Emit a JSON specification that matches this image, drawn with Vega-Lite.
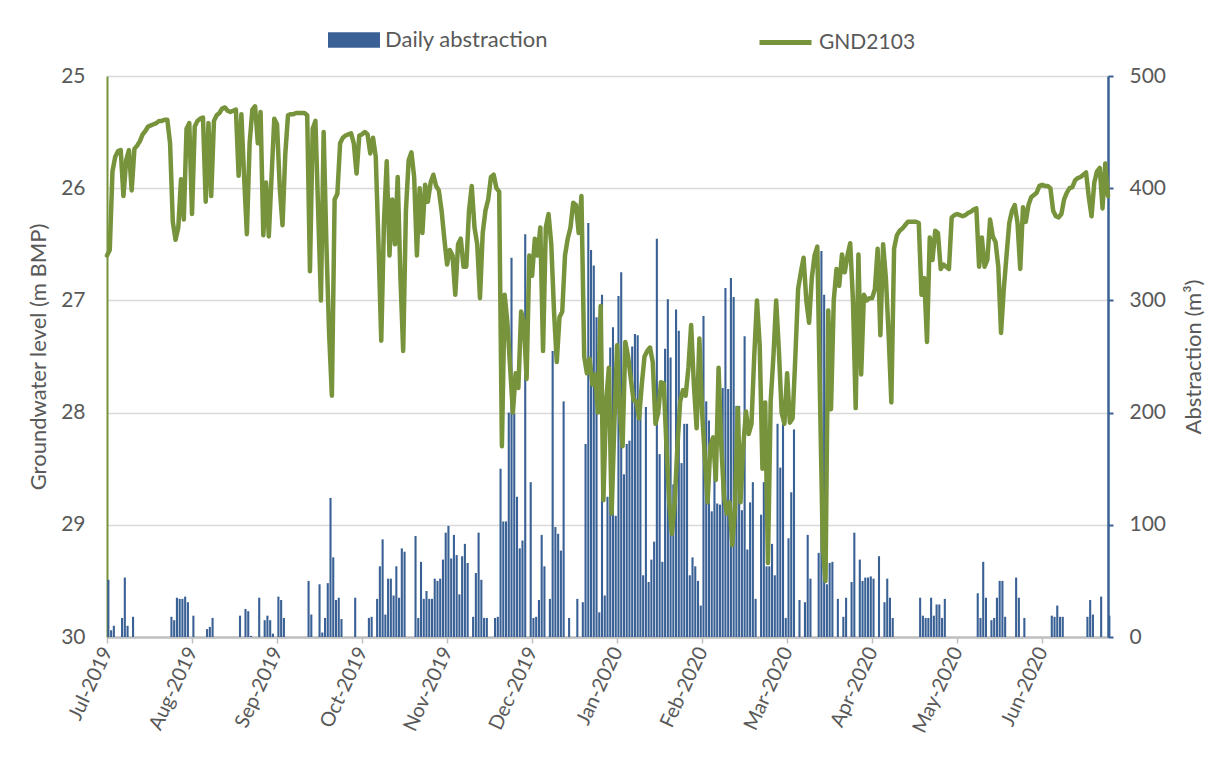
{
"$schema":"https://vega.github.io/schema/vega-lite/v6.json",
"width":1001,"height":561,
"autosize":{"type":"none"},
"padding":{"left":107,"top":76,"right":106,"bottom":123},
"background":"white",
"config":{"font":"Lato","view":{"stroke":null},"axis":{"labelFont":"Lato","titleFont":"Lato"},"legend":{"labelFont":"Lato","labelLimit":400}},
"data":{"values":[
{"date":"2019-07-01","level":26.6,"abstraction":51},{"date":"2019-07-02","level":26.55,"abstraction":6},{"date":"2019-07-03","level":25.85,"abstraction":10},{"date":"2019-07-04","level":25.72},{"date":"2019-07-05","level":25.67},{"date":"2019-07-06","level":25.66,"abstraction":17},{"date":"2019-07-07","level":26.07,"abstraction":53},{"date":"2019-07-08","level":25.75,"abstraction":10},{"date":"2019-07-09","level":25.66},{"date":"2019-07-10","level":26.02,"abstraction":18},{"date":"2019-07-11","level":25.65},{"date":"2019-07-12","level":25.62},{"date":"2019-07-13","level":25.58},{"date":"2019-07-14","level":25.52},{"date":"2019-07-15","level":25.49},{"date":"2019-07-16","level":25.45},{"date":"2019-07-17","level":25.44},{"date":"2019-07-18","level":25.43},{"date":"2019-07-19","level":25.42},{"date":"2019-07-20","level":25.40},{"date":"2019-07-21","level":25.40},{"date":"2019-07-22","level":25.39},{"date":"2019-07-23","level":25.39},{"date":"2019-07-24","level":25.6,"abstraction":18},{"date":"2019-07-25","level":26.3,"abstraction":15},{"date":"2019-07-26","level":26.46,"abstraction":35},{"date":"2019-07-27","level":26.35,"abstraction":34},{"date":"2019-07-28","level":25.92,"abstraction":34},{"date":"2019-07-29","level":26.28,"abstraction":36},{"date":"2019-07-30","level":25.47,"abstraction":31},{"date":"2019-07-31","level":25.42},
{"date":"2019-08-01","level":26.23,"abstraction":19},{"date":"2019-08-02","level":25.45},{"date":"2019-08-03","level":25.40},{"date":"2019-08-04","level":25.38},{"date":"2019-08-05","level":25.37},{"date":"2019-08-06","level":26.12,"abstraction":7},{"date":"2019-08-07","level":25.42,"abstraction":9},{"date":"2019-08-08","level":26.07,"abstraction":17},{"date":"2019-08-09","level":25.40},{"date":"2019-08-10","level":25.35},{"date":"2019-08-11","level":25.33},{"date":"2019-08-12","level":25.29},{"date":"2019-08-13","level":25.28},{"date":"2019-08-14","level":25.31},{"date":"2019-08-15","level":25.32},{"date":"2019-08-16","level":25.31},{"date":"2019-08-17","level":25.30},{"date":"2019-08-18","level":25.89,"abstraction":19},{"date":"2019-08-19","level":25.34},{"date":"2019-08-20","level":25.90,"abstraction":25},{"date":"2019-08-21","level":26.41,"abstraction":23},{"date":"2019-08-22","level":25.60,"abstraction":1},{"date":"2019-08-23","level":25.30},{"date":"2019-08-24","level":25.27},{"date":"2019-08-25","level":25.60,"abstraction":35},{"date":"2019-08-26","level":25.32},{"date":"2019-08-27","level":26.42,"abstraction":15},{"date":"2019-08-28","level":25.95,"abstraction":19},{"date":"2019-08-29","level":26.43,"abstraction":15},{"date":"2019-08-30","level":25.90,"abstraction":3},{"date":"2019-08-31","level":25.38},
{"date":"2019-09-01","level":25.43,"abstraction":36},{"date":"2019-09-02","level":26.00,"abstraction":33},{"date":"2019-09-03","level":26.33,"abstraction":17},{"date":"2019-09-04","level":25.70},{"date":"2019-09-05","level":25.35},{"date":"2019-09-06","level":25.34},{"date":"2019-09-07","level":25.34},{"date":"2019-09-08","level":25.33},{"date":"2019-09-09","level":25.33},{"date":"2019-09-10","level":25.33},{"date":"2019-09-11","level":25.33},{"date":"2019-09-12","level":25.35,"abstraction":50},{"date":"2019-09-13","level":26.74,"abstraction":20},{"date":"2019-09-14","level":25.47},{"date":"2019-09-15","level":25.40},{"date":"2019-09-16","level":26.20,"abstraction":47},{"date":"2019-09-17","level":27.00,"abstraction":4},{"date":"2019-09-18","level":25.50,"abstraction":17},{"date":"2019-09-19","level":26.50,"abstraction":48},{"date":"2019-09-20","level":27.30,"abstraction":124},{"date":"2019-09-21","level":27.85,"abstraction":71},{"date":"2019-09-22","level":26.10,"abstraction":33},{"date":"2019-09-23","level":26.05,"abstraction":35},{"date":"2019-09-24","level":25.60,"abstraction":16},{"date":"2019-09-25","level":25.55},{"date":"2019-09-26","level":25.53},{"date":"2019-09-27","level":25.52},{"date":"2019-09-28","level":25.51},{"date":"2019-09-29","level":25.60,"abstraction":35},{"date":"2019-09-30","level":25.87},
{"date":"2019-10-01","level":25.53},{"date":"2019-10-02","level":25.52},{"date":"2019-10-03","level":25.50},{"date":"2019-10-04","level":25.52,"abstraction":17},{"date":"2019-10-05","level":25.69,"abstraction":18},{"date":"2019-10-06","level":25.55},{"date":"2019-10-07","level":25.72,"abstraction":34},{"date":"2019-10-08","level":26.50,"abstraction":63},{"date":"2019-10-09","level":27.36,"abstraction":87},{"date":"2019-10-10","level":26.30,"abstraction":20},{"date":"2019-10-11","level":25.76,"abstraction":52},{"date":"2019-10-12","level":26.60,"abstraction":52},{"date":"2019-10-13","level":26.10,"abstraction":37},{"date":"2019-10-14","level":26.50,"abstraction":63},{"date":"2019-10-15","level":25.90,"abstraction":35},{"date":"2019-10-16","level":26.80,"abstraction":79},{"date":"2019-10-17","level":27.45,"abstraction":76},{"date":"2019-10-18","level":26.20},{"date":"2019-10-19","level":25.75},{"date":"2019-10-20","level":25.68},{"date":"2019-10-21","level":25.90,"abstraction":90},{"date":"2019-10-22","level":26.60,"abstraction":17},{"date":"2019-10-23","level":26.00,"abstraction":67},{"date":"2019-10-24","level":26.40,"abstraction":34},{"date":"2019-10-25","level":25.97,"abstraction":41},{"date":"2019-10-26","level":26.12,"abstraction":34},{"date":"2019-10-27","level":25.95,"abstraction":34},{"date":"2019-10-28","level":25.88,"abstraction":52},{"date":"2019-10-29","level":25.98,"abstraction":50},{"date":"2019-10-30","level":26.02,"abstraction":52},{"date":"2019-10-31","level":26.20,"abstraction":69},
{"date":"2019-11-01","level":26.45,"abstraction":93},{"date":"2019-11-02","level":26.68,"abstraction":99},{"date":"2019-11-03","level":26.55,"abstraction":70},{"date":"2019-11-04","level":26.60,"abstraction":91},{"date":"2019-11-05","level":26.95,"abstraction":73},{"date":"2019-11-06","level":26.50,"abstraction":38},{"date":"2019-11-07","level":26.45,"abstraction":72},{"date":"2019-11-08","level":26.70,"abstraction":83},{"date":"2019-11-09","level":26.70,"abstraction":66},{"date":"2019-11-10","level":26.20},{"date":"2019-11-11","level":25.98,"abstraction":18},{"date":"2019-11-12","level":26.35,"abstraction":57},{"date":"2019-11-13","level":26.50,"abstraction":93},{"date":"2019-11-14","level":26.98,"abstraction":51},{"date":"2019-11-15","level":26.40,"abstraction":17},{"date":"2019-11-16","level":26.20,"abstraction":17},{"date":"2019-11-17","level":26.10},{"date":"2019-11-18","level":25.90},{"date":"2019-11-19","level":25.88,"abstraction":17},{"date":"2019-11-20","level":26.00,"abstraction":18},{"date":"2019-11-21","level":26.03,"abstraction":150},{"date":"2019-11-22","level":28.30,"abstraction":103},{"date":"2019-11-23","level":26.95,"abstraction":103},{"date":"2019-11-24","level":27.20,"abstraction":200},{"date":"2019-11-25","level":27.60,"abstraction":338},{"date":"2019-11-26","level":28.00,"abstraction":199},{"date":"2019-11-27","level":27.65,"abstraction":125},{"date":"2019-11-28","level":27.78,"abstraction":79},{"date":"2019-11-29","level":27.10,"abstraction":86},{"date":"2019-11-30","level":27.20,"abstraction":359},
{"date":"2019-12-01","level":27.70},{"date":"2019-12-02","level":26.60,"abstraction":138},{"date":"2019-12-03","level":26.78,"abstraction":17},{"date":"2019-12-04","level":26.45,"abstraction":18},{"date":"2019-12-05","level":26.60,"abstraction":33},{"date":"2019-12-06","level":26.35,"abstraction":91},{"date":"2019-12-07","level":27.45,"abstraction":63},{"date":"2019-12-08","level":26.35},{"date":"2019-12-09","level":26.23,"abstraction":34},{"date":"2019-12-10","level":26.50,"abstraction":255},{"date":"2019-12-11","level":27.10,"abstraction":98},{"date":"2019-12-12","level":27.55,"abstraction":92},{"date":"2019-12-13","level":27.15,"abstraction":77},{"date":"2019-12-14","level":27.10,"abstraction":210},{"date":"2019-12-15","level":26.60},{"date":"2019-12-16","level":26.45,"abstraction":17},{"date":"2019-12-17","level":26.35},{"date":"2019-12-18","level":26.13},{"date":"2019-12-19","level":26.15,"abstraction":34},{"date":"2019-12-20","level":26.40},{"date":"2019-12-21","level":26.07,"abstraction":31},{"date":"2019-12-22","level":27.50,"abstraction":172},{"date":"2019-12-23","level":27.65,"abstraction":369},{"date":"2019-12-24","level":27.52,"abstraction":345},{"date":"2019-12-25","level":27.75,"abstraction":331},{"date":"2019-12-26","level":27.66,"abstraction":285},{"date":"2019-12-27","level":28.00,"abstraction":22},{"date":"2019-12-28","level":27.05,"abstraction":305},{"date":"2019-12-29","level":28.78,"abstraction":37},{"date":"2019-12-30","level":27.90,"abstraction":125},{"date":"2019-12-31","level":27.60,"abstraction":258},
{"date":"2020-01-01","level":28.90,"abstraction":276},{"date":"2020-01-02","level":28.10,"abstraction":108},{"date":"2020-01-03","level":27.40,"abstraction":304},{"date":"2020-01-04","level":28.00,"abstraction":325},{"date":"2020-01-05","level":28.30,"abstraction":145},{"date":"2020-01-06","level":27.37,"abstraction":172},{"date":"2020-01-07","level":27.50,"abstraction":175},{"date":"2020-01-08","level":27.70,"abstraction":259},{"date":"2020-01-09","level":27.89,"abstraction":270},{"date":"2020-01-10","level":27.90,"abstraction":269},{"date":"2020-01-11","level":28.05,"abstraction":220},{"date":"2020-01-12","level":27.75,"abstraction":55},{"date":"2020-01-13","level":27.50,"abstraction":205},{"date":"2020-01-14","level":27.45,"abstraction":49},{"date":"2020-01-15","level":27.42,"abstraction":69},{"date":"2020-01-16","level":27.55,"abstraction":85},{"date":"2020-01-17","level":28.10,"abstraction":355},{"date":"2020-01-18","level":28.00,"abstraction":163},{"date":"2020-01-19","level":27.73,"abstraction":67},{"date":"2020-01-20","level":27.74,"abstraction":257},{"date":"2020-01-21","level":28.30,"abstraction":301},{"date":"2020-01-22","level":28.80,"abstraction":249},{"date":"2020-01-23","level":29.08,"abstraction":136},{"date":"2020-01-24","level":28.80,"abstraction":292},{"date":"2020-01-25","level":28.30,"abstraction":273},{"date":"2020-01-26","level":27.90,"abstraction":155},{"date":"2020-01-27","level":27.80,"abstraction":190},{"date":"2020-01-28","level":27.85,"abstraction":190},{"date":"2020-01-29","level":27.60,"abstraction":55},{"date":"2020-01-30","level":27.22,"abstraction":71},{"date":"2020-01-31","level":27.75,"abstraction":63},
{"date":"2020-02-01","level":28.14,"abstraction":50},{"date":"2020-02-02","level":27.34,"abstraction":28},{"date":"2020-02-03","level":28.00,"abstraction":286},{"date":"2020-02-04","level":28.40,"abstraction":210},{"date":"2020-02-05","level":28.80,"abstraction":193},{"date":"2020-02-06","level":28.30,"abstraction":112},{"date":"2020-02-07","level":28.22,"abstraction":149},{"date":"2020-02-08","level":28.60,"abstraction":119},{"date":"2020-02-09","level":27.60,"abstraction":118},{"date":"2020-02-10","level":28.30,"abstraction":222},{"date":"2020-02-11","level":28.75,"abstraction":311},{"date":"2020-02-12","level":28.90,"abstraction":221},{"date":"2020-02-13","level":28.80,"abstraction":320},{"date":"2020-02-14","level":29.18,"abstraction":303},{"date":"2020-02-15","level":28.85,"abstraction":206},{"date":"2020-02-16","level":27.96,"abstraction":206},{"date":"2020-02-17","level":28.80,"abstraction":113},{"date":"2020-02-18","level":28.30,"abstraction":268},{"date":"2020-02-19","level":27.99,"abstraction":78},{"date":"2020-02-20","level":28.19,"abstraction":120},{"date":"2020-02-21","level":28.10,"abstraction":138},{"date":"2020-02-22","level":27.50,"abstraction":34},{"date":"2020-02-23","level":27.00},{"date":"2020-02-24","level":27.40,"abstraction":109},{"date":"2020-02-25","level":28.50,"abstraction":138},{"date":"2020-02-26","level":27.91,"abstraction":63},{"date":"2020-02-27","level":29.34,"abstraction":63},{"date":"2020-02-28","level":27.90,"abstraction":83},{"date":"2020-02-29","level":27.50,"abstraction":55},
{"date":"2020-03-01","level":27.00,"abstraction":190},{"date":"2020-03-02","level":27.45,"abstraction":151},{"date":"2020-03-03","level":28.00,"abstraction":193},{"date":"2020-03-04","level":28.10,"abstraction":17},{"date":"2020-03-05","level":27.65,"abstraction":88},{"date":"2020-03-06","level":28.09,"abstraction":129},{"date":"2020-03-07","level":28.05,"abstraction":185},{"date":"2020-03-08","level":27.50},{"date":"2020-03-09","level":26.90,"abstraction":33},{"date":"2020-03-10","level":26.75},{"date":"2020-03-11","level":26.62,"abstraction":31},{"date":"2020-03-12","level":27.00,"abstraction":91},{"date":"2020-03-13","level":27.20,"abstraction":52},{"date":"2020-03-14","level":26.80},{"date":"2020-03-15","level":26.60},{"date":"2020-03-16","level":26.52,"abstraction":75},{"date":"2020-03-17","level":27.88,"abstraction":344},{"date":"2020-03-18","level":29.20,"abstraction":305},{"date":"2020-03-19","level":29.50,"abstraction":47},{"date":"2020-03-20","level":27.09,"abstraction":66},{"date":"2020-03-21","level":27.97,"abstraction":67},{"date":"2020-03-22","level":27.00},{"date":"2020-03-23","level":26.72,"abstraction":34},{"date":"2020-03-24","level":26.87},{"date":"2020-03-25","level":26.59,"abstraction":18},{"date":"2020-03-26","level":26.75,"abstraction":35},{"date":"2020-03-27","level":26.60},{"date":"2020-03-28","level":26.49,"abstraction":49},{"date":"2020-03-29","level":27.00,"abstraction":93},{"date":"2020-03-30","level":27.96},{"date":"2020-03-31","level":26.59,"abstraction":69},
{"date":"2020-04-01","level":27.66,"abstraction":50},{"date":"2020-04-02","level":26.95,"abstraction":53},{"date":"2020-04-03","level":27.00,"abstraction":53},{"date":"2020-04-04","level":26.98,"abstraction":54},{"date":"2020-04-05","level":26.98,"abstraction":52},{"date":"2020-04-06","level":26.90},{"date":"2020-04-07","level":26.54,"abstraction":72},{"date":"2020-04-08","level":27.31},{"date":"2020-04-09","level":26.50,"abstraction":31},{"date":"2020-04-10","level":26.80,"abstraction":52},{"date":"2020-04-11","level":27.30,"abstraction":35},{"date":"2020-04-12","level":27.91,"abstraction":17},{"date":"2020-04-13","level":26.54},{"date":"2020-04-14","level":26.42},{"date":"2020-04-15","level":26.38},{"date":"2020-04-16","level":26.36},{"date":"2020-04-17","level":26.33},{"date":"2020-04-18","level":26.30},{"date":"2020-04-19","level":26.30},{"date":"2020-04-20","level":26.30},{"date":"2020-04-21","level":26.30},{"date":"2020-04-22","level":26.31,"abstraction":35},{"date":"2020-04-23","level":26.95,"abstraction":19},{"date":"2020-04-24","level":26.80,"abstraction":17},{"date":"2020-04-25","level":27.37,"abstraction":17},{"date":"2020-04-26","level":26.44,"abstraction":35},{"date":"2020-04-27","level":26.64,"abstraction":19},{"date":"2020-04-28","level":26.38,"abstraction":29},{"date":"2020-04-29","level":26.40,"abstraction":29},{"date":"2020-04-30","level":26.72,"abstraction":17},
{"date":"2020-05-01","level":26.68,"abstraction":34},{"date":"2020-05-02","level":26.70},{"date":"2020-05-03","level":26.72},{"date":"2020-05-04","level":26.26},{"date":"2020-05-05","level":26.24},{"date":"2020-05-06","level":26.23},{"date":"2020-05-07","level":26.24},{"date":"2020-05-08","level":26.25},{"date":"2020-05-09","level":26.24},{"date":"2020-05-10","level":26.22},{"date":"2020-05-11","level":26.21},{"date":"2020-05-12","level":26.19},{"date":"2020-05-13","level":26.18,"abstraction":39},{"date":"2020-05-14","level":26.70,"abstraction":17},{"date":"2020-05-15","level":26.44,"abstraction":67},{"date":"2020-05-16","level":26.70,"abstraction":35},{"date":"2020-05-17","level":26.64},{"date":"2020-05-18","level":26.28,"abstraction":15},{"date":"2020-05-19","level":26.43,"abstraction":17},{"date":"2020-05-20","level":26.48,"abstraction":35},{"date":"2020-05-21","level":26.70,"abstraction":50},{"date":"2020-05-22","level":27.29,"abstraction":50},{"date":"2020-05-23","level":26.90,"abstraction":18},{"date":"2020-05-24","level":26.60},{"date":"2020-05-25","level":26.31},{"date":"2020-05-26","level":26.20},{"date":"2020-05-27","level":26.15,"abstraction":53},{"date":"2020-05-28","level":26.31,"abstraction":35},{"date":"2020-05-29","level":26.72},{"date":"2020-05-30","level":26.17,"abstraction":17},{"date":"2020-05-31","level":26.30},
{"date":"2020-06-01","level":26.15},{"date":"2020-06-02","level":26.08},{"date":"2020-06-03","level":26.06},{"date":"2020-06-04","level":26.04},{"date":"2020-06-05","level":25.98},{"date":"2020-06-06","level":25.97},{"date":"2020-06-07","level":25.98},{"date":"2020-06-08","level":25.98},{"date":"2020-06-09","level":26.00,"abstraction":19},{"date":"2020-06-10","level":26.20,"abstraction":18},{"date":"2020-06-11","level":26.25,"abstraction":28},{"date":"2020-06-12","level":26.26,"abstraction":18},{"date":"2020-06-13","level":26.23,"abstraction":18},{"date":"2020-06-14","level":26.10},{"date":"2020-06-15","level":26.04},{"date":"2020-06-16","level":26.00},{"date":"2020-06-17","level":25.99},{"date":"2020-06-18","level":25.93},{"date":"2020-06-19","level":25.91},{"date":"2020-06-20","level":25.90},{"date":"2020-06-21","level":25.88},{"date":"2020-06-22","level":25.86,"abstraction":18},{"date":"2020-06-23","level":26.08,"abstraction":33},{"date":"2020-06-24","level":26.25,"abstraction":20},{"date":"2020-06-25","level":25.95},{"date":"2020-06-26","level":25.85},{"date":"2020-06-27","level":25.82,"abstraction":36},{"date":"2020-06-28","level":26.18},{"date":"2020-06-29","level":25.78},{"date":"2020-06-30","level":26.07,"abstraction":19}
]},
"layer":[
{"transform":[{"filter":"datum.abstraction > 0"}],
 "mark":{"type":"bar","width":2.1},
 "encoding":{
  "x":{"field":"date","type":"temporal","timeUnit":"utcyearmonthdate","bandPosition":0.5,
   "scale":{"type":"utc","domain":[{"year":2019,"month":7,"date":1,"utc":true},{"year":2020,"month":6,"date":30,"utc":true}]},
   "axis":{"title":null,"format":"%b-%Y","labelAngle":-65,"labelFontSize":20,"labelColor":"#595959","labelPadding":5,
    "values":[{"year":2019,"month":7,"date":1,"utc":true},{"year":2019,"month":8,"date":1,"utc":true},{"year":2019,"month":9,"date":1,"utc":true},{"year":2019,"month":10,"date":2,"utc":true},{"year":2019,"month":11,"date":2,"utc":true},{"year":2019,"month":12,"date":3,"utc":true},{"year":2020,"month":1,"date":3,"utc":true},{"year":2020,"month":2,"date":3,"utc":true},{"year":2020,"month":3,"date":5,"utc":true},{"year":2020,"month":4,"date":5,"utc":true},{"year":2020,"month":5,"date":6,"utc":true},{"year":2020,"month":6,"date":6,"utc":true}],
    "grid":false,"domainColor":"#bfbfbf","domainWidth":2.5,"tickColor":"#bfbfbf","tickWidth":1.5,"tickSize":6,"labelFlush":false,"labelOverlap":false}},
  "y":{"field":"abstraction","type":"quantitative","scale":{"domain":[0,500]},
   "axis":{"orient":"right","title":"Abstraction (m³)","titleAngle":-90,"titleFontSize":22,"titleFontWeight":"normal","titleColor":"#595959","titlePadding":40,
    "values":[0,100,200,300,400,500],"labelFontSize":21,"labelColor":"#595959","labelPadding":16,"grid":false,
    "domainColor":"#3a6195","domainWidth":2.5,"tickColor":"#3a6195","tickWidth":2,"tickSize":5}},
  "color":{"datum":"Daily abstraction","scale":{"domain":["Daily abstraction"],"range":["#3a6195"]},
   "legend":{"title":null,"orient":"none","legendX":221,"legendY":-62,"padding":0,"symbolType":"M-1,-0.3H1V0.3H-1Z","symbolSize":2704,"symbolStrokeWidth":0,"labelFontSize":22,"labelColor":"#595959","labelOffset":5,"labelLimit":400}}
 }},
{"mark":{"type":"line","strokeWidth":4.5,"strokeJoin":"round","strokeCap":"round"},
 "encoding":{
  "x":{"field":"date","type":"temporal"},
  "y":{"field":"level","type":"quantitative","scale":{"domain":[25,30],"reverse":true,"zero":false},
   "axis":{"orient":"left","title":"Groundwater level (m BMP)","titleFontSize":22,"titleFontWeight":"normal","titleColor":"#595959","titlePadding":10,
    "values":[25,26,27,28,29,30],"labelFontSize":21,"labelColor":"#595959","labelPadding":22,"ticks":false,
    "domainColor":"#77933c","domainWidth":2,"grid":true,"gridColor":"#d9d9d9","gridWidth":1.5}},
  "stroke":{"datum":"GND2103","scale":{"domain":["GND2103"],"range":["#77933c"]},
   "legend":{"title":null,"orient":"none","legendX":650,"legendY":-62,"padding":0,"symbolType":"stroke","symbolSize":2704,"symbolStrokeWidth":5,"labelFontSize":21,"labelColor":"#595959","labelOffset":5,"labelLimit":400}}
 }}
],
"resolve":{"scale":{"y":"independent"}}
}
